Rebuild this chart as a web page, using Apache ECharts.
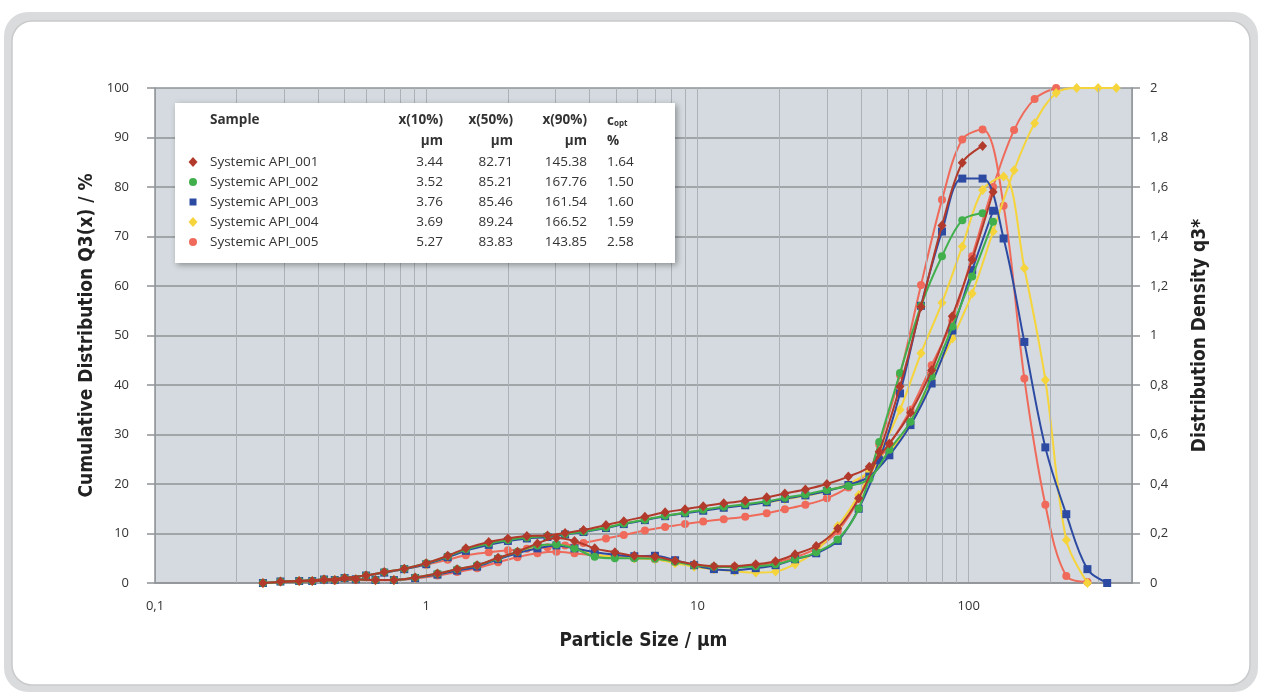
<!DOCTYPE html>
<html><head><meta charset="utf-8">
<script src="https://cdn.jsdelivr.net/npm/echarts@6/dist/echarts.min.js"></script>
<style>html,body{margin:0;padding:0;background:#fff}#c{width:1262px;height:699px}</style>
</head><body><div id="c"></div>
<script>
// Particle size classes: upper limits (cumulative) and class mid-points (density), µm
const sizeCum = [0.25,0.34,0.42,0.5,0.6,0.7,0.83,1.0,1.2,1.4,1.7,2.0,2.35,2.8,3.25,3.8,4.6,5.35,6.4,7.6,9.0,10.5,12.5,15,18,21,25,30,36,43,51,61,73,87,103,123,147,175,210,250,300,350];
const sizeDen = [0.29,0.38,0.46,0.55,0.65,0.76,0.91,1.1,1.3,1.54,1.84,2.17,2.57,3.02,3.52,4.18,4.96,5.85,6.97,8.27,9.72,11.5,13.7,16.4,19.4,22.9,27.4,32.9,39.3,46.8,55.8,66.7,79.7,94.7,112.5,134.5,160.4,191.7,229,274,324];

// Cumulative distribution Q3(x) / %
const cum001 = [0,0.4,0.7,1.0,1.5,2.2,2.9,4.0,5.5,7.0,8.3,9.0,9.5,9.6,10.1,10.7,11.7,12.5,13.4,14.3,14.9,15.5,16.1,16.6,17.3,18.1,18.9,20.0,21.5,23.5,28.2,34.4,43.0,53.9,65.3,79.0];
const cum002 = [0,0.4,0.7,1.0,1.5,2.2,2.9,4.0,5.4,6.8,8.0,8.7,9.2,9.5,9.9,10.4,11.2,12.0,12.8,13.6,14.2,14.8,15.4,15.9,16.5,17.2,17.9,18.8,19.6,21.0,26.9,32.6,41.7,51.8,61.9,73.0];
const cum003 = [0,0.4,0.7,1.0,1.5,2.1,2.8,3.8,5.2,6.5,7.7,8.5,9.0,9.3,9.8,10.3,11.1,11.9,12.7,13.5,14.1,14.6,15.2,15.7,16.3,17.0,17.7,18.6,19.8,21.5,25.8,31.9,40.3,51.0,63.2,75.2];
const cum004 = [0,0.4,0.7,1.0,1.5,2.1,2.8,3.8,5.2,6.6,7.8,8.6,9.1,9.4,9.9,10.4,11.2,12.0,12.8,13.6,14.2,14.8,15.3,15.8,16.3,16.9,17.6,18.6,20.0,22.5,26.5,32.0,41.0,49.4,58.5,71.0,83.4,92.9,99.0,100,100,100];
const cum005 = [0,0.4,0.7,1.0,1.5,2.1,2.8,3.7,4.7,5.6,6.2,6.6,6.9,7.2,7.6,8.1,9.0,9.7,10.6,11.3,11.9,12.4,12.9,13.4,14.1,14.9,15.8,17.1,19.3,22.5,28.0,35.0,44.0,53.0,66.0,80.0,91.5,97.8,100];

// Distribution density q3*
const den001 = [0.006,0.008,0.012,0.015,0.012,0.012,0.022,0.038,0.056,0.072,0.102,0.126,0.160,0.182,0.170,0.140,0.124,0.110,0.106,0.090,0.076,0.068,0.068,0.076,0.088,0.116,0.150,0.220,0.342,0.530,0.794,1.116,1.444,1.698,1.766];
const den002 = [0.006,0.008,0.012,0.015,0.012,0.012,0.022,0.038,0.056,0.072,0.100,0.126,0.152,0.156,0.140,0.106,0.100,0.100,0.098,0.086,0.072,0.066,0.064,0.068,0.076,0.096,0.124,0.176,0.300,0.570,0.848,1.120,1.320,1.466,1.494];
const den003 = [0.006,0.008,0.012,0.015,0.012,0.012,0.020,0.034,0.050,0.066,0.096,0.120,0.140,0.152,0.140,0.124,0.114,0.108,0.110,0.092,0.072,0.056,0.052,0.060,0.072,0.096,0.120,0.170,0.300,0.496,0.766,1.120,1.420,1.634,1.634,1.392,0.974,0.548,0.278,0.056,0];
const den004 = [0.006,0.008,0.012,0.015,0.012,0.012,0.020,0.036,0.054,0.070,0.098,0.122,0.146,0.156,0.140,0.116,0.104,0.100,0.096,0.080,0.066,0.056,0.048,0.042,0.046,0.076,0.130,0.230,0.356,0.520,0.700,0.928,1.132,1.360,1.588,1.642,1.272,0.820,0.174,0];
const den005 = [0.006,0.008,0.010,0.012,0.011,0.011,0.018,0.030,0.044,0.060,0.084,0.104,0.120,0.126,0.120,0.112,0.106,0.100,0.096,0.084,0.072,0.066,0.066,0.072,0.084,0.104,0.140,0.210,0.340,0.560,0.840,1.204,1.548,1.792,1.832,1.524,0.826,0.316,0.028,0.004];

// Table values
const sampleNames = ['Systemic API_001','Systemic API_002','Systemic API_003','Systemic API_004','Systemic API_005'];
const x10 = ['3.44','3.52','3.76','3.69','5.27'];
const x50 = ['82.71','85.21','85.46','89.24','83.83'];
const x90 = ['145.38','167.76','161.54','166.52','143.85'];
const copt = ['1.64','1.50','1.60','1.59','2.58'];

// Minor vertical grid positions on the log axis
const minorGrid = [0.2,0.3,0.4,0.5,0.6,0.7,0.8,0.9,2,3,4,5,6,7,8,9,20,30,40,50,60,70,80,90,200,300];

const cumAll = [cum001,cum002,cum003,cum004,cum005];
const denAll = [den001,den002,den003,den004,den005];
const colors = ['#b23a2c','#41b04c','#2d4aa3','#f5d43c','#ef6a5a'];
const symbols = ['diamond','circle','rect','diamond','circle'];
const symSizes = [[9,10],8,8,[9,10],8];

const FONT = 'Open Sans';
const TFONT = 'DejaVu Sans Condensed';
const chart = echarts.init(document.getElementById('c'));

const series = [{
  type:'line', data:[], z:1, silent:true, xAxisIndex:0, yAxisIndex:0,
  markLine:{silent:true, symbol:'none', animation:false, label:{show:false},
    lineStyle:{color:'#abb1b6', width:1, type:'solid'},
    data: minorGrid.map(v=>({xAxis:v}))}
}];
for (let k = 4; k >= 0; k--) {
  const c = cumAll[k], d = denAll[k];
  const common = {
    type:'line', smooth:0.35, symbol:symbols[k], symbolSize:symSizes[k], z:3+(4-k),
    itemStyle:{color:colors[k]}, lineStyle:{color:colors[k], width:2}, name:sampleNames[k]
  };
  series.push(Object.assign({}, common, {yAxisIndex:0, data:c.map((v,i)=>[sizeCum[i], v])}));
  series.push(Object.assign({}, common, {yAxisIndex:1, data:d.map((v,i)=>[sizeDen[i], v])}));
}

// Frame + table graphic
const tblFont = '13.5px "Open Sans"';
const g = [
  {type:'rect', shape:{x:4,y:12,width:1254,height:680,r:24}, style:{fill:'#dadbdc'}, z:-10},
  {type:'rect', shape:{x:12,y:21,width:1238,height:664,r:20}, style:{fill:'#ffffff', stroke:'#c9cacb', lineWidth:1.5}, z:-9},
  {type:'rect', shape:{x:175,y:103,width:500,height:160}, style:{fill:'#ffffff', shadowBlur:6, shadowColor:'rgba(0,0,0,0.35)', shadowOffsetX:2, shadowOffsetY:2}, z:20},
];
function txt(x,y,s,align,bold){
  g.push({type:'text', x:x, y:y, z:21, style:{text:s, fill:'#333', font:(bold?'bold ':'')+tblFont, align:align, verticalAlign:'middle'}});
}
txt(210,120,'Sample','left',true);
txt(443,120,'x(10%)','right',true);
txt(513,120,'x(50%)','right',true);
txt(587,120,'x(90%)','right',true);
g.push({type:'text', x:607, y:121, z:21, style:{rich:{a:{font:'bold 13.5px "Open Sans"', fill:'#333'}, b:{font:'bold 8px "Open Sans"', fill:'#333', padding:[6,0,0,0]}}, text:'{a|c}{b|opt}', align:'left', verticalAlign:'middle'}});
txt(443,141,'µm','right',true);
txt(513,141,'µm','right',true);
txt(587,141,'µm','right',true);
txt(607,141,'%','left',true);
const rowY = [162,182,202,222,242];
for (let k=0;k<5;k++){
  const y = rowY[k];
  if (symbols[k]==='circle') g.push({type:'circle', z:21, shape:{cx:193,cy:y,r:4}, style:{fill:colors[k]}});
  else if (symbols[k]==='rect') g.push({type:'rect', z:21, shape:{x:189.5,y:y-3.5,width:7,height:7}, style:{fill:colors[k]}});
  else g.push({type:'polygon', z:21, shape:{points:[[193,y-5],[197.5,y],[193,y+5],[188.5,y]]}, style:{fill:colors[k]}});
  txt(210,y,sampleNames[k],'left',false);
  txt(443,y,x10[k],'right',false);
  txt(513,y,x50[k],'right',false);
  txt(587,y,x90[k],'right',false);
  txt(607,y,copt[k],'left',false);
}

const comma = v => String(+(+v).toFixed(2)).replace('.', ',');
const gridCol = '#8f9396';
const titleStyle = {fontFamily:TFONT, fontWeight:'bold', fontSize:19, color:'#222'};
chart.setOption({
  animation:false,
  backgroundColor:'transparent',
  grid:{left:155, right:130, top:88, bottom:116, show:true, backgroundColor:'#d4dadf', borderWidth:0},
  xAxis:{type:'log', logBase:10, min:0.1, max:400,
    name:'Particle Size / µm', nameLocation:'middle', nameGap:49,
    nameTextStyle:titleStyle,
    axisLine:{show:true, onZero:false, lineStyle:{color:gridCol, width:1.5}},
    axisTick:{show:false},
    axisLabel:{fontFamily:FONT, fontSize:13, color:'#333', margin:17, showMaxLabel:false,
      formatter:v=>{const l=Math.log10(v); return Math.abs(l-Math.round(l))<1e-6 ? comma(v) : '';}},
    splitLine:{show:true, lineStyle:{color:'#abb1b6', width:1}}
  },
  yAxis:[
    {type:'value', min:0, max:100, interval:10, position:'left',
     name:'Cumulative Distribution Q3(x) / %', nameLocation:'middle', nameGap:58, nameMoveOverlap:false,
     nameTextStyle:titleStyle,
     axisLine:{show:true, lineStyle:{color:gridCol, width:1.5}},
     axisTick:{show:true, length:8, lineStyle:{color:gridCol, width:1.5}},
     axisLabel:{fontFamily:FONT, fontSize:13, color:'#333', margin:26},
     splitLine:{show:true, lineStyle:{color:gridCol, width:1.5}}},
    {type:'value', min:0, max:2, interval:0.2, position:'right',
     name:'Distribution Density q3*', nameLocation:'middle', nameGap:59,
     nameTextStyle:titleStyle,
     axisLine:{show:true, lineStyle:{color:gridCol, width:1.5}},
     axisTick:{show:true, length:8, lineStyle:{color:gridCol, width:1.5}},
     axisLabel:{fontFamily:FONT, fontSize:13, color:'#333', margin:18, formatter:comma},
     splitLine:{show:false}}
  ],
  graphic:g,
  series:series
});
</script></body></html>
